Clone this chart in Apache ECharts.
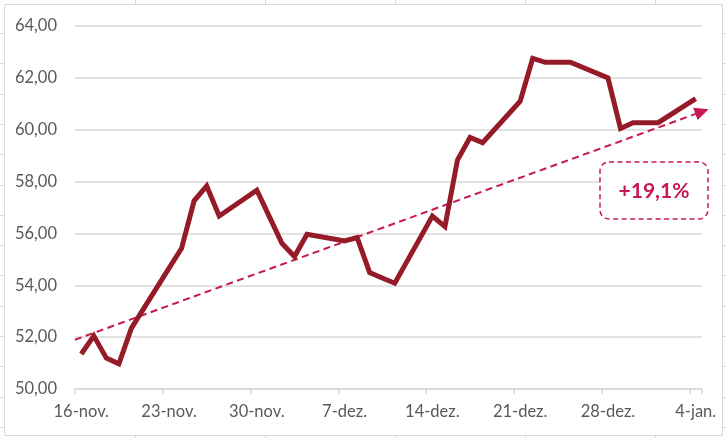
<!DOCTYPE html>
<html>
<head>
<meta charset="utf-8">
<script src="https://cdn.jsdelivr.net/npm/echarts@6/dist/echarts.min.js"></script>
<style>
html,body{margin:0;padding:0;background:#fff;}
#c{width:726px;height:438px;}
</style>
</head>
<body>
<div id="c"></div>
<script>
// Day-by-day categories (16-nov to 4-jan); weekends have no data
const categories = [
 '16-nov.','17-nov.','18-nov.','19-nov.','20-nov.','21-nov.','22-nov.',
 '23-nov.','24-nov.','25-nov.','26-nov.','27-nov.','28-nov.','29-nov.',
 '30-nov.','1-dez.','2-dez.','3-dez.','4-dez.','5-dez.','6-dez.',
 '7-dez.','8-dez.','9-dez.','10-dez.','11-dez.','12-dez.','13-dez.',
 '14-dez.','15-dez.','16-dez.','17-dez.','18-dez.','19-dez.','20-dez.',
 '21-dez.','22-dez.','23-dez.','24-dez.','25-dez.','26-dez.','27-dez.',
 '28-dez.','29-dez.','30-dez.','31-dez.','1-jan.','2-jan.','3-jan.',
 '4-jan.'
];
const prices = [
 51.35, 52.05, 51.19, 50.97, 52.35, null, null,
 54.66, 55.43, 57.26, 57.83, 56.67, null, null,
 57.67, 56.65, 55.62, 55.11, 55.97, null, null,
 55.71, 55.84, 54.49, 54.28, 54.08, null, null,
 56.67, 56.26, 58.83, 59.70, 59.50, null, null,
 61.10, 62.75, 62.60, 62.60, 62.60, null, null,
 62.00, 60.05, 60.27, 60.27, 60.27, null, null,
 61.20
];
// Trend arrow endpoints (day offset from 16-nov, value)
const trendDays = [0, 50];
const trendValues = [51.90, 60.70];
const changeLabel = '+19,1%';

const FONT = 'Lato';
const chart = echarts.init(document.getElementById('c'), null, {renderer:'canvas'});

const gfx = [];
// spreadsheet cell lines outside the chart area
[135,265,395,525,655].forEach(x=>{
  gfx.push({type:'line',shape:{x1:x+0.5,y1:0,x2:x+0.5,y2:4},style:{stroke:'#D9D9D9',lineWidth:1},silent:true});
  gfx.push({type:'line',shape:{x1:x+0.5,y1:435,x2:x+0.5,y2:438},style:{stroke:'#D9D9D9',lineWidth:1},silent:true});
});
for(let k=0;k<14;k++){
  const y = Math.round(33 + 30.3*k)+0.5;
  gfx.push({type:'line',shape:{x1:0,y1:y,x2:4,y2:y},style:{stroke:'#D9D9D9',lineWidth:1},silent:true});
  gfx.push({type:'line',shape:{x1:723,y1:y,x2:726,y2:y},style:{stroke:'#D9D9D9',lineWidth:1},silent:true});
}
// chart area border
gfx.push({type:'rect',shape:{x:4.5,y:4.5,width:718,height:431},style:{fill:null,stroke:'#D9D9D9',lineWidth:1},silent:true,z:-1});
// annotation box
gfx.push({type:'rect',shape:{x:600,y:162,width:108,height:57,r:9},
  style:{fill:'#fff',stroke:'#C8174F',lineWidth:1.5,lineDash:[5,3.5]},z:10});
gfx.push({type:'text',x:654,y:191,style:{text:changeLabel,fill:'#C8174F',font:'bold 21px '+FONT,
  textAlign:'center',textVerticalAlign:'middle'},z:11});

chart.setOption({
  animation:false,
  backgroundColor:'#fff',
  grid:{left:75,right:24,top:26,bottom:49,containLabel:false},
  xAxis:[{
    type:'category',
    data:categories,
    boundaryGap:true,
    axisLine:{show:true,lineStyle:{color:'#D9D9D9',width:1.5}},
    axisTick:{show:true,interval:6,length:5,lineStyle:{color:'#D9D9D9',width:1.5}},
    axisLabel:{interval:6,color:'#595959',fontFamily:FONT,fontSize:16.5,margin:14},
    splitLine:{show:false}
  },{
    type:'value',
    min:0,max:50,
    show:false
  }],
  yAxis:{
    type:'value',
    min:50,max:64,interval:2,
    axisLine:{show:false},
    axisTick:{show:false},
    axisLabel:{color:'#595959',fontFamily:FONT,fontSize:16.5,margin:18,
      formatter:v=>v.toFixed(2).replace('.',',')},
    splitLine:{lineStyle:{color:'#D9D9D9',width:1.5}}
  },
  series:[{
    type:'line',
    xAxisIndex:0,
    data:prices,
    connectNulls:true,
    showSymbol:false,
    symbol:'none',
    lineStyle:{color:'#961B28',width:5,join:'miter',cap:'butt'},
    z:5
  },{
    type:'line',
    xAxisIndex:1,
    data:[],
    clip:false,
    markLine:{
      silent:true,
      symbol:['none','triangle'],
      symbolSize:[13,14],
      label:{show:false},
      lineStyle:{color:'#C8174F',width:2,type:[7,4.5]},
      data:[[{coord:[trendDays[0],trendValues[0]]},{coord:[trendDays[1],trendValues[1]]}]]
    },
    z:4
  }],
  graphic:gfx
});
</script>
</body>
</html>
